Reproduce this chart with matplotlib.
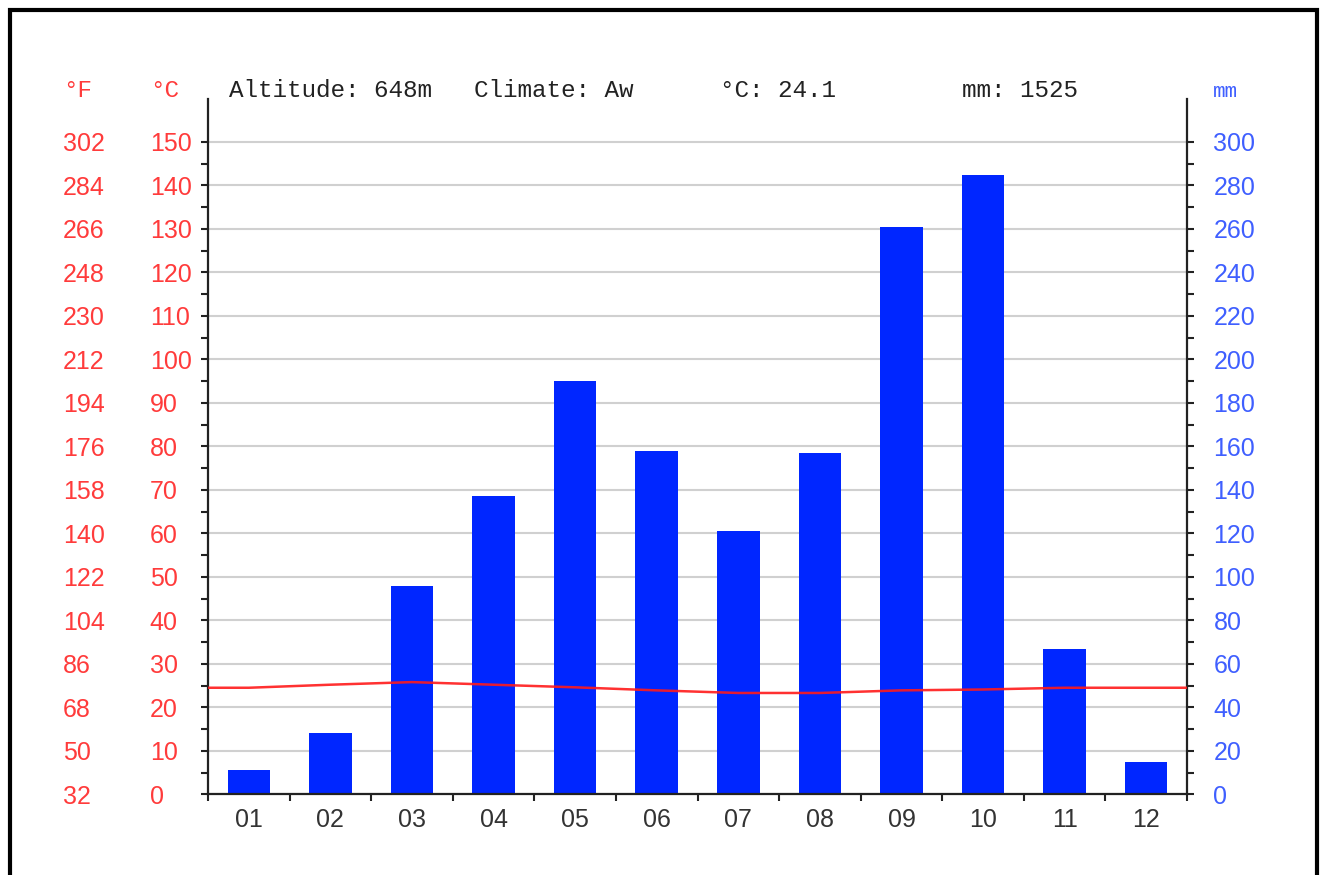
import numpy as np
import matplotlib
matplotlib.use("Agg")
import matplotlib.pyplot as plt
from matplotlib.patches import Rectangle
from matplotlib.transforms import blended_transform_factory

W, H = 1322, 875

# climate data
months = ["01", "02", "03", "04", "05", "06", "07", "08", "09", "10", "11", "12"]
precip_mm = [11, 28, 96, 137, 190, 158, 121, 157, 261, 285, 67, 15]
temp_c = [24.5, 25.2, 25.8, 25.2, 24.6, 23.9, 23.3, 23.3, 23.9, 24.1, 24.5, 24.5]
altitude = "648m"
climate = "Aw"
mean_temp = "24.1"
total_mm = "1525"

red_lab = "#ff3b3b"
blue_lab = "#3f5fff"
bar_col = "#0026ff"
mono = "Liberation Mono"
sans = "Liberation Sans"
lab_size = 18

plt.rcParams["font.family"] = [sans, "DejaVu Sans"]


def fx(x):
    return x / W


def fy(y):
    return 1 - y / H


fig = plt.figure(figsize=(W / 100, H / 100), dpi=100)
fig.patch.set_facecolor("white")

left, right, top, bottom = 208, 1187, 98.5, 794.3
ax_p = fig.add_axes([fx(left), fy(bottom), (right - left) / W, (bottom - top) / H])
ax_t = ax_p.twinx()
ax_p.yaxis.tick_right()
ax_t.yaxis.tick_left()

x = np.arange(1, 13)

# precipitation bars (right axis, mm)
ax_p.bar(x, precip_mm, width=0.52, color=bar_col, zorder=2)
ax_p.set_xlim(0.5, 12.5)
ax_p.set_ylim(0, 320)
ax_p.set_yticks(range(0, 301, 20))
ax_p.set_yticks([v for v in range(10, 310, 20)], minor=True)
ax_p.set_axisbelow(True)
ax_p.yaxis.grid(True, color="#d0d0d0", lw=1.5)

# temperature line (left axis, degC)
tx = np.concatenate([[0.5], x, [12.5]])
ty = np.concatenate([[temp_c[0]], temp_c, [temp_c[-1]]])
ax_t.plot(tx, ty, color="#ff1a1a", lw=1.8, alpha=0.9, zorder=5)
ax_t.set_ylim(0, 160)
ax_t.set_yticks(range(0, 151, 10))
ax_t.set_yticks([v for v in range(5, 150, 10)], minor=True)

# spines
for s in ax_t.spines.values():
    s.set_visible(False)
ax_p.spines["top"].set_visible(False)
for k in ["left", "right", "bottom"]:
    ax_p.spines[k].set_color("#222222")
    ax_p.spines[k].set_linewidth(1.6)

# month ticks at boundaries, labels at centres
ax_p.set_xticks(np.arange(0.5, 13, 1))
ax_p.set_xticklabels([])
ax_p.set_xticks(x, minor=True)
ax_p.set_xticklabels(months, minor=True)
ax_p.tick_params(axis="x", which="major", direction="out", length=5, width=1.5, color="#222222")
ax_p.tick_params(axis="x", which="minor", length=0, pad=10, labelsize=lab_size, labelcolor="#333333")

# right axis ticks (mm)
ax_p.tick_params(axis="y", which="both", direction="out", length=5, width=1.5,
                 color="#222222", pad=14, labelsize=lab_size, labelcolor=blue_lab)

# left axis ticks (degC), labels left aligned
ax_t.tick_params(axis="y", which="both", direction="out", length=5, width=1.5,
                 color="#222222", pad=37, labelsize=lab_size, labelcolor=red_lab)
for lab in ax_t.get_yticklabels():
    lab.set_horizontalalignment("left")

# degF column
tr = blended_transform_factory(fig.transFigure, ax_t.transData)
for c in range(0, 151, 10):
    ax_t.text(fx(63), c, f"{round(32 + 1.8 * c)}", transform=tr, ha="left", va="center_baseline",
              fontsize=lab_size, color=red_lab, clip_on=False)

# header
hy = fy(97)
fig.text(fx(63), hy, "°F", family=mono, fontsize=17.5, color=red_lab, va="baseline")
fig.text(fx(150), hy, "°C", family=mono, fontsize=17.5, color=red_lab, va="baseline")
fig.text(fx(229), hy, f"Altitude: {altitude}", family=mono, fontsize=17.5, color="#222222", va="baseline")
fig.text(fx(474), hy, f"Climate: {climate}", family=mono, fontsize=17.5, color="#222222", va="baseline")
fig.text(fx(720), hy, f"°C: {mean_temp}", family=mono, fontsize=17.5, color="#222222", va="baseline")
fig.text(fx(962), hy, f"mm: {total_mm}", family=mono, fontsize=17.5, color="#222222", va="baseline")
fig.text(fx(1213), hy, "mm", family=mono, fontsize=15, color=blue_lab, va="baseline")

# outer frame
fig.add_artist(Rectangle((fx(10), -0.1), (1316.5 - 10) / W, 1.1 - 10 / H,
                         transform=fig.transFigure, fill=False, lw=3, ec="black", clip_on=False))

fig.savefig("out.png", dpi=100)
